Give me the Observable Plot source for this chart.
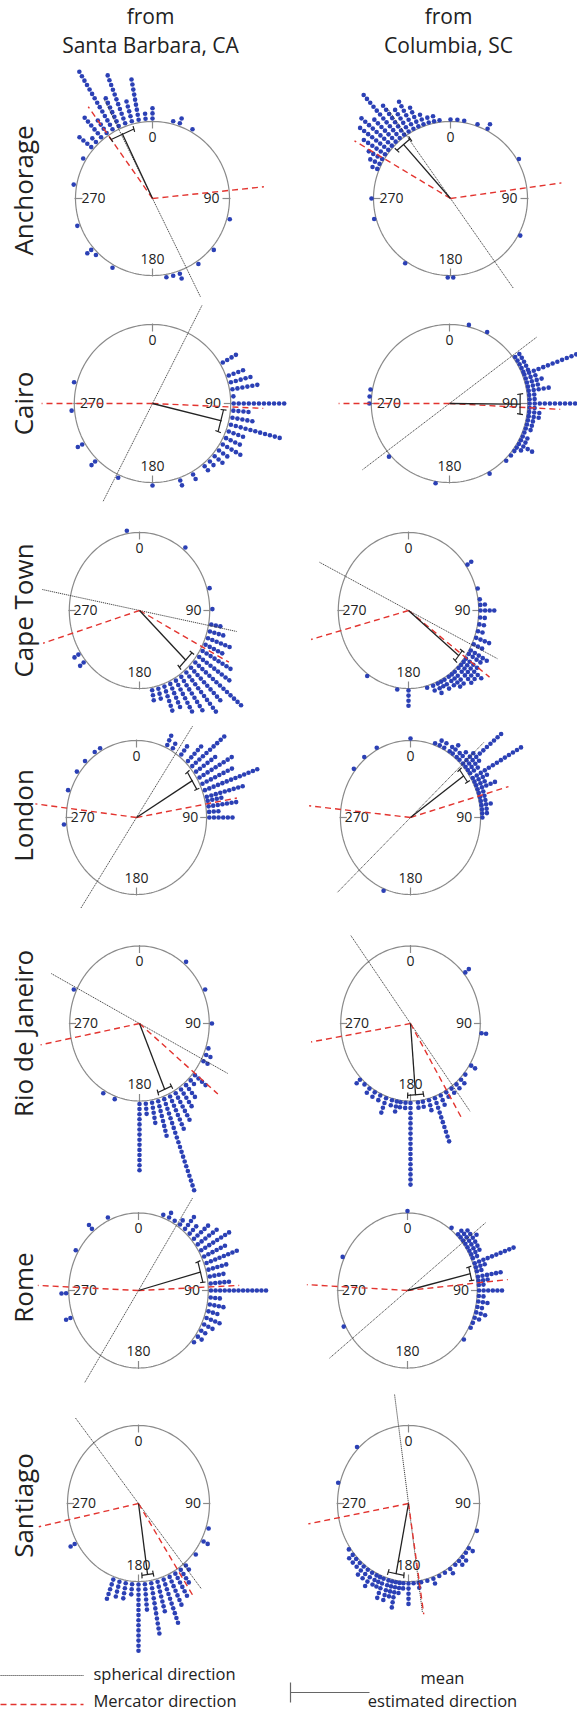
<!DOCTYPE html>
<html><head><meta charset="utf-8">
<script src="https://cdn.jsdelivr.net/npm/d3@7"></script>
<script src="https://cdn.jsdelivr.net/npm/@observablehq/plot@0.6"></script>
<style>body{margin:0;background:#fff}</style>
</head><body><div id="chart"></div>
<script>
// ---------------- DATA ----------------
const origins = ["Santa Barbara, CA", "Columbia, SC"];
const cities = ["Anchorage", "Cairo", "Cape Town", "London", "Rio de Janeiro", "Rome", "Santiago"];
const angleTicks = [0, 90, 180, 270];

// estimated directions: [bearing in degrees, number of participants]
const anchorageSB = [[0,3],[355,2],[350,9],[345,5],[340,11],[335,7],[330,14],[325,4],[320,6],[315,2],[310,4],[300,1],[280,1],[250,1],[230,2],[225,1],[210,1],[170,1],[165,1],[160,2],[145,1],[130,1],[105,1],[30,1],[20,2],[15,1]];
const anchorageSC = [[0,1],[5,1],[10,1],[20,1],[28,2],[60,1],[118,1],[178,1],[182,1],[215,1],[255,1],[270,1],[292,2],[296,3],[300,4],[304,6],[308,8],[312,9],[316,7],[320,12],[324,8],[328,6],[332,7],[336,5],[340,3],[344,2],[348,2],[352,1]];
const cairoSB = [[60,4],[70,4],[75,5],[80,6],[85,1],[90,11],[95,4],[100,5],[105,11],[110,4],[115,4],[120,5],[125,3],[130,3],[135,2],[140,2],[150,2],[160,2],[180,1],[205,1],[225,2],[240,2],[265,1],[285,1]];
const cairoSC = [[14,1],[28,1],[55,2],[58,2],[61,2],[64,2],[67,2],[69,12],[72,3],[75,4],[78,3],[81,5],[84,2],[87,2],[90,11],[93,2],[96,3],[99,3],[102,2],[105,2],[108,2],[111,1],[114,2],[117,2],[120,4],[123,2],[126,1],[130,1],[135,1],[150,1],[190,1],[229,1],[270,1],[275,1],[280,1]];
const capeTownSB = [[350,1],[39,1],[74,1],[89,1],[100,3],[105,4],[110,6],[115,5],[120,8],[125,9],[130,14],[135,10],[140,11],[145,9],[150,8],[155,6],[160,6],[165,3],[170,3],[230,2],[237,2]];
const capeTownSC = [[55,2],[74,1],[82,1],[86,2],[90,4],[95,2],[100,2],[105,2],[110,4],[115,3],[120,5],[123,4],[127,4],[130,6],[133,5],[136,5],[140,4],[143,4],[146,3],[150,3],[153,2],[156,3],[160,2],[165,1],[180,4],[189,1],[215,1]];
const londonSB = [[265,1],[290,1],[305,1],[315,1],[325,1],[330,1],[25,3],[30,2],[38,3],[45,5],[50,10],[55,6],[60,9],[65,8],[70,13],[75,9],[78,4],[82,7],[86,3],[90,6]];
const londonSC = [[0,1],[20,1],[24,2],[28,2],[33,2],[36,3],[40,2],[43,3],[47,4],[50,11],[53,4],[56,3],[60,13],[63,4],[66,3],[69,5],[72,2],[75,2],[78,2],[81,3],[84,2],[87,2],[90,1],[202,1],[308,1],[320,1],[332,1]];
const rioSB = [[40,1],[65,1],[90,1],[108,1],[113,2],[118,2],[130,4],[135,2],[140,4],[145,5],[150,7],[155,8],[160,20],[165,8],[170,5],[175,3],[180,14],[200,1],[210,1],[295,1]];
const rioSC = [[50,2],[97,2],[122,2],[130,1],[135,2],[140,2],[145,2],[150,2],[155,3],[160,10],[165,3],[170,2],[174,2],[180,17],[184,2],[188,2],[191,3],[195,2],[200,4],[205,2],[210,2],[215,2],[220,1],[225,2]];
const romeSB = [[20,1],[25,2],[30,1],[35,2],[40,4],[45,3],[50,5],[55,6],[60,8],[65,6],[70,8],[75,5],[80,4],[85,5],[90,13],[95,3],[100,4],[105,3],[110,4],[115,3],[120,2],[125,2],[130,1],[250,2],[268,2],[300,1],[320,2],[335,1]];
const romeSC = [[0,1],[38,1],[45,2],[48,3],[51,3],[54,4],[57,3],[60,3],[63,3],[66,2],[70,10],[73,3],[76,2],[80,6],[83,3],[86,2],[90,6],[94,2],[98,3],[102,2],[106,3],[110,2],[114,1],[118,1],[128,1],[243,1],[295,1]];
const santiagoSB = [[108,1],[118,2],[129,1],[140,2],[145,4],[150,6],[155,7],[160,10],[165,7],[170,11],[175,6],[180,14],[185,3],[190,4],[195,4],[200,5],[240,2]];
const santiagoSC = [[110,1],[124,2],[128,1],[132,2],[136,2],[140,1],[145,2],[150,1],[155,1],[160,2],[165,1],[170,1],[172,2],[176,1],[180,5],[184,2],[187,3],[190,6],[193,4],[196,5],[200,5],[203,3],[206,3],[210,4],[214,3],[218,3],[222,2],[226,2],[230,2],[235,1],[285,1],[315,1]];

// reference directions (degrees)
const sphericalSB = [334, 27, 281, 34, 297, 33, 321];
const sphericalSC = [325, 53, 296, 47, 323, 52, 352];
const mercatorSB = [[325,84],[270,92.5],[253,117.5],[277,80],[259,129],[272.6,87.4],[258,147]];
const mercatorSC = [[301,82],[270,93],[255,126.5],[276,74],[260.5,149],[273,84.4],[259.5,171.4]];
const meanSB = [335, 104, 134, 59, 157, 75, 172];
const meanSC = [319, 90.5, 129, 54.5, 175.5, 76.5, 191];
const ciSB = [10, 9, 8, 8, 6.5, 8.5, 5];
const ciSC = [7, 8, 5, 6, 7, 5.5, 7];

// ---------------- LAYOUT ----------------
const W = 577, H = 1713;
const rowY = [198, 403, 610, 817, 1023, 1290, 1503];
const labelShift = [-8, 0, 0, -2, 10, -3, 2];
const colX = [[152,450],[152,449],[139,408],[136,410],[139,410],[138,407],[138,408]];
const radius = [77, 79, 78, 77, 77.5, 77.5, 78];
const squeeze = [1, 0.99, 0.9, 0.91, 0.9, 0.9, 0.91];
const dotSets = [[anchorageSB, anchorageSC],[cairoSB, cairoSC],[capeTownSB, capeTownSC],[londonSB, londonSC],[rioSB, rioSC],[romeSB, romeSC],[santiagoSB, santiagoSC]];
const sphSets = [sphericalSB, sphericalSC], merSets = [mercatorSB, mercatorSC];
const meanSets = [meanSB, meanSC], ciSets = [ciSB, ciSC];

const panels = [];
cities.forEach((city, i) => origins.forEach((origin, j) => {
  panels.push({id: i*2+j, city, origin, cx: colX[i][j], cy: rowY[i], R: radius[i], sx: squeeze[i],
    dots: dotSets[i][j], sph: sphSets[j][i], mer: merSets[j][i], mean: meanSets[j][i], ci: ciSets[j][i], col: j});
}));
function pt(p, a, r) { const t = a * Math.PI / 180; return {x: p.cx + Math.sin(t) * r * p.sx, y: p.cy - Math.cos(t) * r}; }

const circlePts = panels.flatMap(p => d3.range(0, 361, 2).map(a => ({...pt(p, a, p.R), id: p.id})));
const tickSegs = panels.flatMap(p => angleTicks.map(a => { const A = pt(p, a, p.R - 7), B = pt(p, a, p.R + 1); return {x1: A.x, y1: A.y, x2: B.x, y2: B.y}; }));
const tickLabels = panels.flatMap(p => angleTicks.map(a => {
  const off = a === 0 || a === 180 ? 16 : 18;
  const P = pt(p, a, p.R - off); return {...P, text: String(a)}; }));
const dotPts = panels.flatMap(p => p.dots.flatMap(([a, n]) => d3.range(n).map(k => pt(p, a, p.R + (p.col ? 2 : 3) + k * 5.1))));
const sphSegs = panels.map(p => { const A = pt(p, p.sph, 110), B = pt(p, p.sph + 180, 110); return {x1: A.x, y1: A.y, x2: B.x, y2: B.y}; });
const merSegs = panels.flatMap(p => p.mer.map(a => { const B = pt(p, a, 112); return {x1: p.cx, y1: p.cy, x2: B.x, y2: B.y}; }));
const meanSegs = panels.map(p => { const B = pt(p, p.mean, 72); return {x1: p.cx, y1: p.cy, x2: B.x, y2: B.y}; });
const bracketSegs = panels.flatMap(p => {
  const A = pt(p, p.mean - p.ci, 72), B = pt(p, p.mean + p.ci, 72);
  const out = [{x1: A.x, y1: A.y, x2: B.x, y2: B.y}];
  for (const a of [p.mean - p.ci, p.mean + p.ci]) { const u = pt(p, a, 69), v = pt(p, a, 75); out.push({x1: u.x, y1: u.y, x2: v.x, y2: v.y}); }
  return out;
});
const rowLabels = cities.map((c, i) => ({x: 24, y: rowY[i] + labelShift[i], text: c}));
const titleCenters = [150, 448];
const titles = origins.flatMap((o, j) => [{x: titleCenters[j], y: 17, text: "from"}, {x: titleCenters[j], y: 46, text: o}]);

const font = "'Open Sans', 'Noto Sans', sans-serif";
const chart = Plot.plot({
  width: W, height: H, margin: 0,
  x: {domain: [0, W], range: [0, W], axis: null},
  y: {domain: [0, H], range: [0, H], axis: null},
  style: {fontFamily: font, background: "#fff"},
  marks: [
    Plot.line(circlePts, {x: "x", y: "y", z: "id", stroke: "#8a8a8a", strokeWidth: 1.2}),
    Plot.link(tickSegs, {x1: "x1", y1: "y1", x2: "x2", y2: "y2", stroke: "#8a8a8a", strokeWidth: 1.2}),
    Plot.dot(dotPts, {x: "x", y: "y", r: 2.3, fill: "#2b40b5", stroke: "none"}),
    Plot.text(tickLabels, {x: "x", y: "y", text: "text", fontSize: 14, fill: "#222", textAnchor: "middle"}),
    Plot.link(sphSegs, {x1: "x1", y1: "y1", x2: "x2", y2: "y2", stroke: "#333", strokeWidth: 0.9, strokeDasharray: "1.2,0.8"}),
    Plot.link(merSegs, {x1: "x1", y1: "y1", x2: "x2", y2: "y2", stroke: "#e3342f", strokeWidth: 1.4, strokeDasharray: "6,4"}),
    Plot.link(meanSegs, {x1: "x1", y1: "y1", x2: "x2", y2: "y2", stroke: "#222", strokeWidth: 1.3}),
    Plot.link(bracketSegs, {x1: "x1", y1: "y1", x2: "x2", y2: "y2", stroke: "#222", strokeWidth: 1.2}),
    Plot.text(rowLabels, {x: "x", y: "y", text: "text", rotate: -90, fontSize: 26, fill: "#222", textAnchor: "middle"}),
    Plot.text(titles, {x: "x", y: "y", text: "text", fontSize: 21, fill: "#222", textAnchor: "middle"}),
    // legend
    Plot.link([{x1: 0, x2: 83, y: 1675}], {x1: "x1", x2: "x2", y1: "y", y2: "y", stroke: "#333", strokeWidth: 0.9, strokeDasharray: "1.2,0.8"}),
    Plot.link([{x1: 0, x2: 83, y: 1704}], {x1: "x1", x2: "x2", y1: "y", y2: "y", stroke: "#e3342f", strokeWidth: 1.4, strokeDasharray: "6,4"}),
    Plot.text([{x: 93, y: 1674, t: "spherical direction"}, {x: 93, y: 1701, t: "Mercator direction"}], {x: "x", y: "y", text: "t", fontSize: 16.5, fill: "#222", textAnchor: "start"}),
    Plot.link([{x1: 290, x2: 369, y: 1692}], {x1: "x1", x2: "x2", y1: "y", y2: "y", stroke: "#666", strokeWidth: 1.2}),
    Plot.link([{x: 290, y1: 1682, y2: 1702}], {x1: "x", x2: "x", y1: "y1", y2: "y2", stroke: "#666", strokeWidth: 1.2}),
    Plot.text([{x: 442, y: 1678, t: "mean"}, {x: 442, y: 1701, t: "estimated direction"}], {x: "x", y: "y", text: "t", fontSize: 16.5, fill: "#222", textAnchor: "middle"})
  ]
});
document.getElementById("chart").appendChild(chart);
</script></body></html>
